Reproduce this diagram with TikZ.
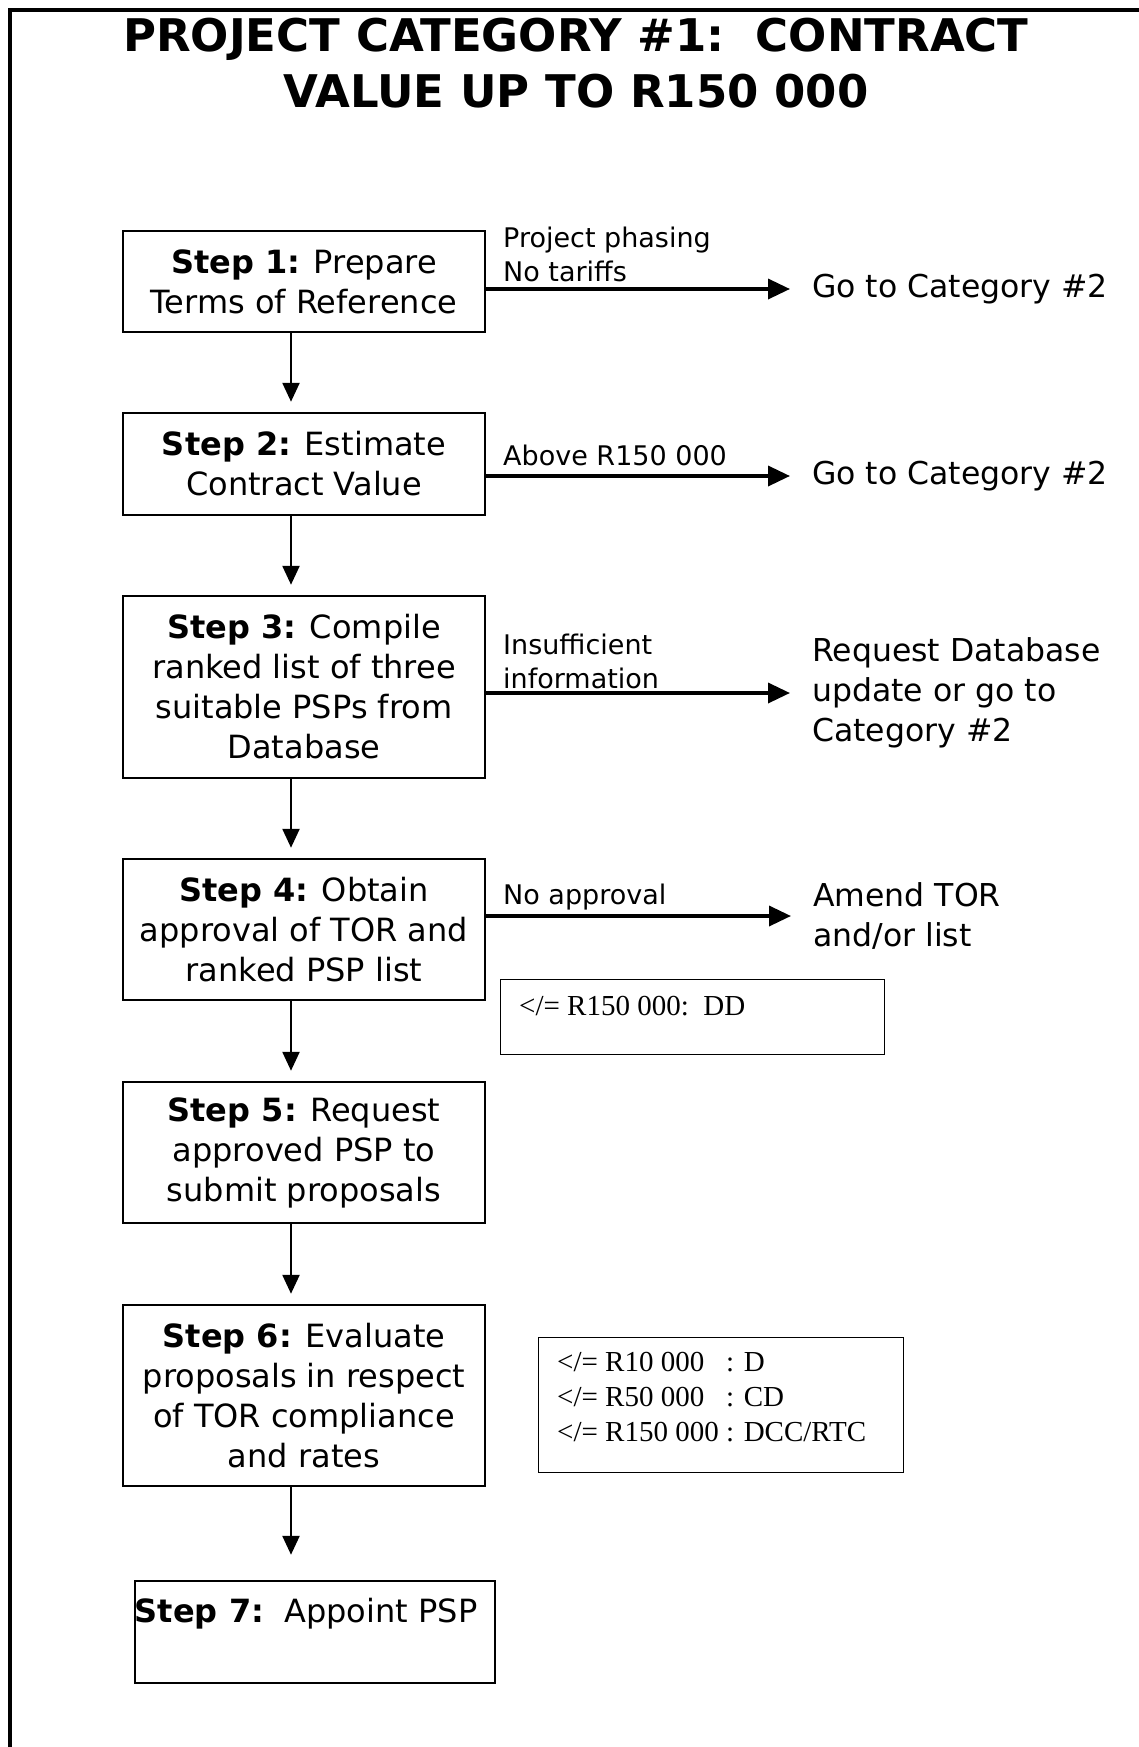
\documentclass[tikz,border=0pt]{standalone}
\usepackage{fontspec}
\setmainfont{DejaVu Sans}
\newfontfamily\timesfont{Liberation Serif}
\usetikzlibrary{arrows.meta,positioning}

\begin{document}
\begin{tikzpicture}[x=1pt, y=-1pt,
        stepbox/.style={rectangle, draw, line width=2.5pt, minimum width=362pt, inner sep=0pt, align=center, font=\fontsize{32}{40}\selectfont},
        note/.style={anchor=west, inner sep=0pt, align=left, font=\fontsize{27}{34}\selectfont},
        target/.style={anchor=west, inner sep=0pt, align=left, font=\fontsize{31.5}{40}\selectfont},
        limbox/.style={rectangle, draw, line width=1pt, anchor=north west, inner sep=0pt},
        limtext/.style={inner sep=0pt, align=left, font=\timesfont\fontsize{29}{35}\selectfont},
        down/.style={-{Triangle[length=19pt, width=17pt]}, line width=2.5pt, shorten >=10pt},
        sidearrow/.style={-{Triangle[length=22pt, width=20pt]}, line width=3.5pt, shorten >=22pt}
    ]
        \useasboundingbox (0,0) rectangle (1139,1747);

        % Frame and title
        \draw[line width=4.5pt] (10,1760) -- (10,10) -- (1150,10);
        \node[align=center, inner sep=0pt, font=\bfseries\fontsize{45}{56}\selectfont] (title) at (576,63)
            {PROJECT CATEGORY \#1:\ \ CONTRACT\\VALUE UP TO R150 000};

        % Steps
        \node[stepbox, minimum height=101pt] (s1) at (304,281.5) {\textbf{Step 1:} Prepare\\Terms of Reference};
        \node[stepbox, minimum height=102pt] (s2) at (304,464) {\textbf{Step 2:} Estimate\\Contract Value};
        \node[stepbox, minimum height=182pt] (s3) at (304,687) {\textbf{Step 3:} Compile\\ranked list of three\\suitable PSPs from\\Database};
        \node[stepbox, minimum height=141pt] (s4) at (304,929.5) {\textbf{Step 4:} Obtain\\approval of TOR and\\ranked PSP list};
        \node[stepbox, minimum height=141pt] (s5) at (304,1152.5) {\textbf{Step 5:} Request\\approved PSP to\\submit proposals};
        \node[stepbox, minimum height=181pt] (s6) at (304,1395.5) {\textbf{Step 6:} Evaluate\\proposals in respect\\of TOR compliance\\and rates};
        \node[stepbox, minimum width=360pt, minimum height=102pt] (s7) at (315,1632) {};
        \node[inner sep=0pt, font=\fontsize{32}{40}\selectfont, below right=18pt and 1pt of s7.north west] (s7text)
            {\textbf{Step 7:}\ \ Appoint PSP};

        \draw[down] ([xshift=-13pt]s1.south) -- ([xshift=-13pt]s1.south |- s2.north);
        \draw[down] ([xshift=-13pt]s2.south) -- ([xshift=-13pt]s2.south |- s3.north);
        \draw[down] ([xshift=-13pt]s3.south) -- ([xshift=-13pt]s3.south |- s4.north);
        \draw[down] ([xshift=-13pt]s4.south) -- ([xshift=-13pt]s4.south |- s5.north);
        \draw[down] ([xshift=-13pt]s5.south) -- ([xshift=-13pt]s5.south |- s6.north);
        \draw[down, shorten >=25pt] ([xshift=-13pt]s6.south) -- ([xshift=-13pt]s6.south |- s7.north);

        % Exits
        \node[target] (g1) at (812,289) {Go to Category \#2};
        \node[target] (g2) at (812,476) {Go to Category \#2};
        \node[target] (g3) at (812,693) {Request Database\\update or go to\\Category \#2};
        \node[target] (g4) at (813,916) {Amend TOR\\and/or list};
        \draw[sidearrow] (g1.west -| s1.east) -- (g1.west);
        \draw[sidearrow] (g2.west -| s2.east) -- (g2.west);
        \draw[sidearrow] (g3.west -| s3.east) -- (g3.west);
        \draw[sidearrow] (g4.west -| s4.east) -- (g4.west);

        \node[note] (n1) at (503,254) {Project phasing\\No tariffs};
        \node[note] (n2) at (503,455) {Above R150 000};
        \node[note] (n3) at (503,661.5) {Insufficient\\information};
        \node[note] (n4) at (503,897) {No approval};

        % Approval limits
        \node[limbox, minimum width=384pt, minimum height=75pt] (lim4) at (500,979) {};
        \node[limtext, below right=17pt and 19pt of lim4.north west] (lim4text) {</= R150 000:\ \ DD};
        \node[limbox, minimum width=365pt, minimum height=135pt] (lim6) at (538,1337) {};
        \node[limtext, below right=15pt and 19pt of lim6.north west] (lim6text)
            {</= R10 000\ \ \ : D\\</= R50 000\ \ \ : CD\\</= R150 000 : DCC/RTC};
    \end{tikzpicture}
\end{document}
